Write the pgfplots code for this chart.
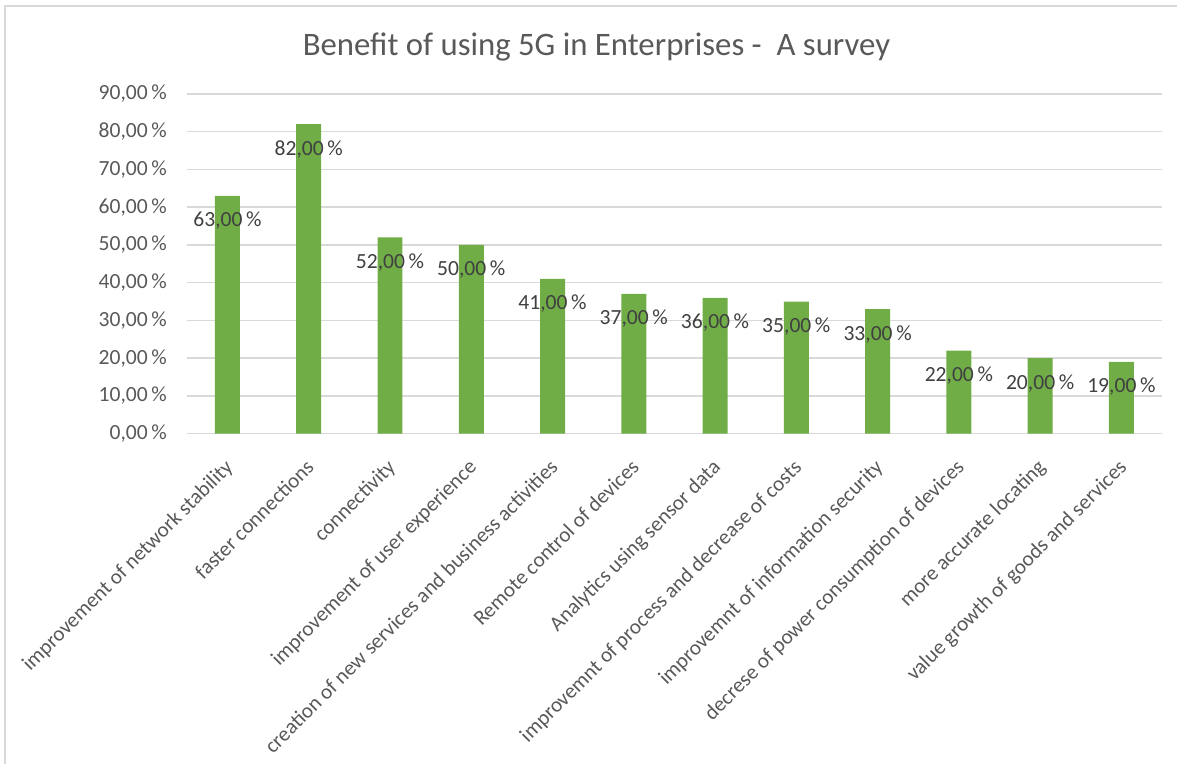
\documentclass[border=0pt]{standalone}
\usepackage{pgfplots}
\pgfplotsset{compat=1.18}
\usepackage{fontspec}
\setmainfont{Carlito}
\definecolor{barg}{HTML}{70AD47}
\definecolor{gridc}{HTML}{D9D9D9}
\definecolor{txt}{HTML}{595959}
\definecolor{lbl}{HTML}{404040}
\begin{document}
\begin{tikzpicture}
\begin{axis}[
  at={(0,0)}, anchor=south west,
  scale only axis,
  width=488pt, height=170pt,
  xmin=-0.5, xmax=11.5,
  ymin=0, ymax=90,
  ybar, bar width=12.5pt,
  /pgf/number format/assume math mode=true,
  axis x line*=bottom,
  axis y line*=left,
  x axis line style={draw=gridc, line width=0.8pt},
  y axis line style={draw=none},
  ymajorgrids,
  major grid style={draw=gridc, line width=0.7pt},
  major tick length=0pt,
  ytick={0,10,...,90},
  yticklabels={{0,00\,\%},{10,00\,\%},{20,00\,\%},{30,00\,\%},{40,00\,\%},{50,00\,\%},{60,00\,\%},{70,00\,\%},{80,00\,\%},{90,00\,\%}},
  yticklabel style={font=\fontsize{10.8}{12}\selectfont, text=txt, xshift=-6.5pt},
  ytick style={draw=none},
  xtick={0,...,11},
  xticklabels={improvement of network stability, faster connections, connectivity, improvement of user experience, creation of new services and business activities, Remote control of devices, Analytics using sensor data, improvemnt of process and decrease of costs, improvemnt of information security, decrese of power consumption of devices, more accurate locating, value growth of goods and services},
  xticklabel style={font=\fontsize{10.6}{12}\selectfont, text=txt, inner sep=0pt, xshift=-2pt, yshift=-12pt, rotate=45, anchor=north east},
  nodes near coords={\pgfmathprintnumber[fixed,fixed zerofill,precision=2,use comma]{\pgfplotspointmeta}\,\%},
  nodes near coords style={font=\fontsize{10.8}{12}\selectfont, text=lbl, anchor=center, yshift=-12.5pt},
  clip=false,
]
\addplot[fill=barg, draw=none] coordinates {
(0,63) (1,82) (2,52) (3,50) (4,41) (5,37) (6,36) (7,35) (8,33) (9,22) (10,20) (11,19)
};
\end{axis}
\node[font=\fontsize{16.4}{19}\selectfont, text=txt] at (205pt,193.5pt) {Benefit of using 5G in Enterprises -\ \ A survey};
\draw[gridc, line width=1pt] (-90.75pt,-165.5pt) -- (-90.75pt,213.75pt) -- (495.5pt,213.75pt);
\path[use as bounding box] (-93.5pt,-165.5pt) rectangle (495.5pt,217pt);
\end{tikzpicture}
\end{document}
